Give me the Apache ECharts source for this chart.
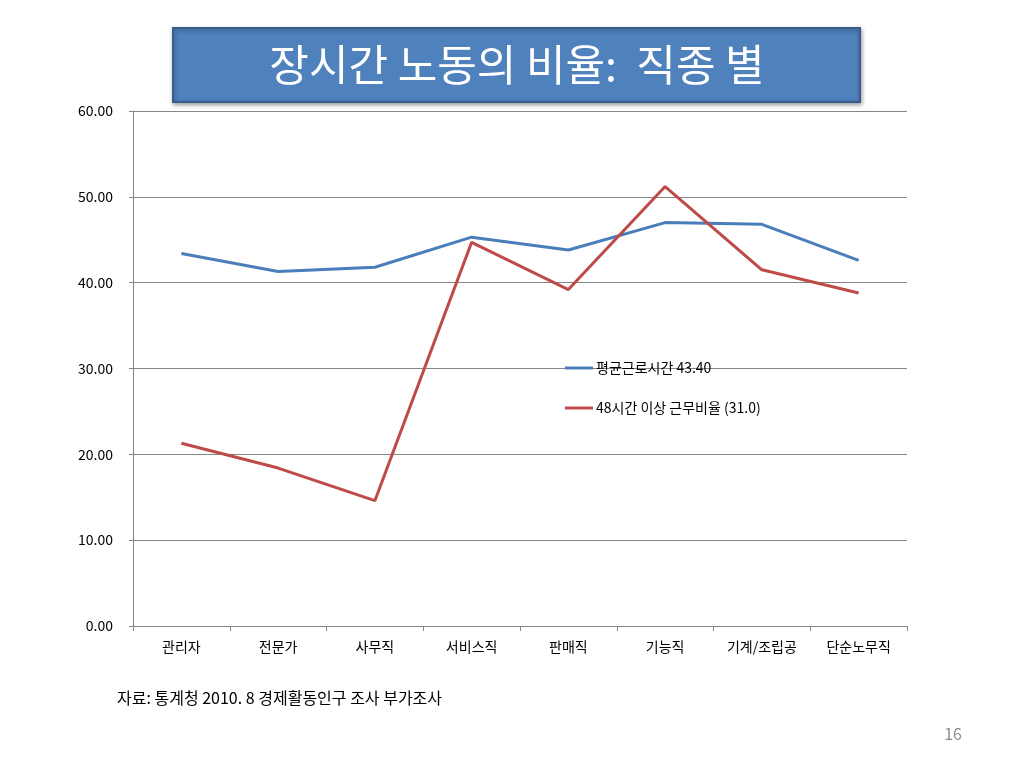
<!DOCTYPE html>
<html>
<head>
<meta charset="utf-8">
<title>장시간 노동의 비율: 직종 별</title>
<script src="https://cdn.jsdelivr.net/npm/echarts@6/dist/echarts.min.js"></script>
<style>
  html, body { margin: 0; padding: 0; background: #fff; }
  #main { width: 1024px; height: 768px; }
</style>
</head>
<body>
<div id="main"></div>
<script>
// 직종 별 장시간 노동 데이터 (자료: 통계청 2010. 8 경제활동인구 조사 부가조사)
var categories = ['관리자', '전문가', '사무직', '서비스직', '판매직', '기능직', '기계/조립공', '단순노무직'];
var avgHours = [43.4, 41.3, 41.8, 45.3, 43.8, 47.0, 46.8, 42.6];
var over48Ratio = [21.3, 18.4, 14.6, 44.7, 39.2, 51.2, 41.5, 38.8];
var seriesNames = ['평균근로시간 43.40', '48시간 이상 근무비율 (31.0)'];

var FONT = '"Noto Sans CJK KR", "Noto Sans", sans-serif';

var myChart = echarts.init(document.getElementById('main'));

var option = {
  backgroundColor: '#ffffff',
  textStyle: { fontFamily: FONT },
  animation: false,
  graphic: [
    // 제목 상자
    {
      type: 'rect',
      shape: { x: 173, y: 28, width: 687, height: 74 },
      style: {
        fill: '#4F81BD',
        stroke: '#385D8A',
        lineWidth: 2,
        shadowBlur: 4,
        shadowOffsetX: 1,
        shadowOffsetY: 2,
        shadowColor: 'rgba(0,0,0,0.35)'
      }
    },
    {
      type: 'text',
      x: 517,
      y: 65,
      style: {
        text: '장시간 노동의 비율:  직종 별',
        fill: '#ffffff',
        font: '43px ' + FONT,
        align: 'center',
        verticalAlign: 'middle'
      }
    },
    // 출처
    {
      type: 'text',
      x: 117,
      y: 698,
      style: {
        text: '자료: 통계청 2010. 8 경제활동인구 조사 부가조사',
        fill: '#000000',
        font: '16px ' + FONT,
        align: 'left',
        verticalAlign: 'middle'
      }
    },
    // 페이지 번호
    {
      type: 'text',
      x: 962,
      y: 734,
      style: {
        text: '16',
        fill: '#8c8c8c',
        font: '16px ' + FONT,
        align: 'right',
        verticalAlign: 'middle'
      }
    }
  ],
  grid: {
    left: 133,
    right: 117,
    top: 111,
    bottom: 142,
    containLabel: false
  },
  legend: {
    orient: 'vertical',
    left: 565,
    top: 361,
    padding: 0,
    itemGap: 26,
    itemWidth: 28,
    itemHeight: 3,
    icon: 'rect',
    textStyle: { color: '#000', fontSize: 14, fontFamily: FONT, padding: [0, 0, 0, -2] },
    data: seriesNames
  },
  xAxis: {
    type: 'category',
    data: categories,
    boundaryGap: true,
    axisLine: { lineStyle: { color: '#868686', width: 1 } },
    axisTick: { show: true, interval: 0, length: 5, lineStyle: { color: '#868686' } },
    axisLabel: { color: '#000', fontSize: 14, margin: 14, interval: 0, fontFamily: FONT },
    splitLine: { show: false }
  },
  yAxis: {
    type: 'value',
    min: 0,
    max: 60,
    interval: 10,
    axisLine: { show: true, lineStyle: { color: '#868686', width: 1 } },
    axisTick: { show: true, length: 4, lineStyle: { color: '#868686' } },
    axisLabel: {
      color: '#000',
      fontSize: 14,
      margin: 20,
      fontFamily: FONT,
      formatter: function (v) { return v.toFixed(2); }
    },
    splitLine: { show: true, lineStyle: { color: '#868686', width: 1 } }
  },
  series: [
    {
      name: seriesNames[0],
      type: 'line',
      data: avgHours,
      symbol: 'none',
      color: '#4A7EBB',
      lineStyle: { color: '#4A7EBB', width: 3 }
    },
    {
      name: seriesNames[1],
      type: 'line',
      data: over48Ratio,
      symbol: 'none',
      color: '#BE4B48',
      lineStyle: { color: '#BE4B48', width: 3 }
    }
  ]
};

myChart.setOption(option);
</script>
</body>
</html>
